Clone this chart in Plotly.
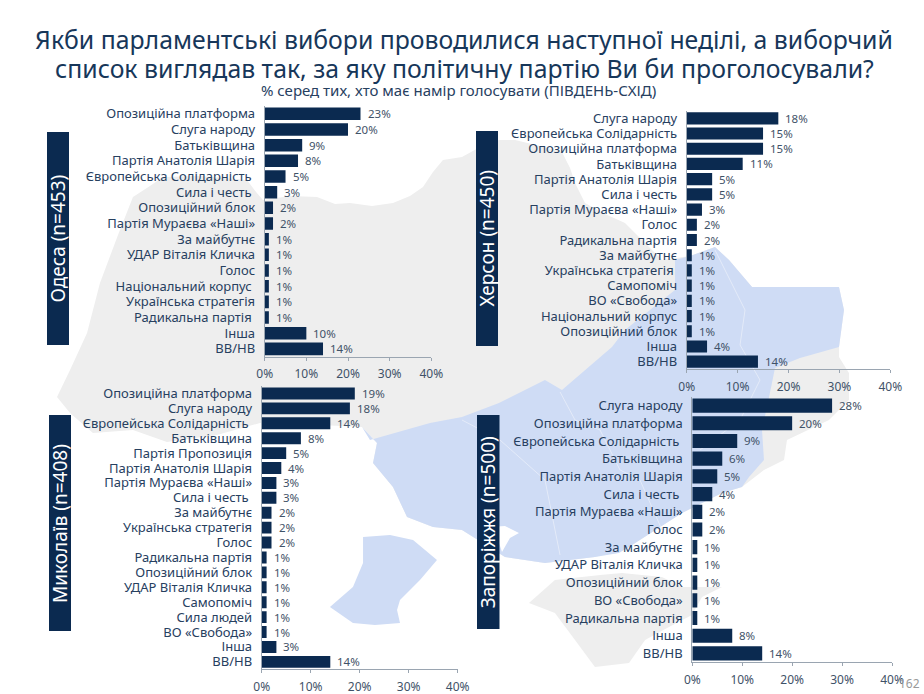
import plotly.graph_objects as go

W, H = 924, 694
NB = "\u00a0"

odesa_labels = ["Опозиційна платформа", "Слуга народу", "Батьківщина", "Партія Анатолія Шарія",
                "Європейська Солідарність" + NB, "Сила і честь" + NB, "Опозиційний блок", "Партія Мураєва «Наші»",
                "За майбутнє", "УДАР Віталія Кличка", "Голос", "Національний корпус" + NB,
                "Українська стратегія", "Радикальна партія" + NB, "Інша", "ВВ/НВ"]
odesa_values = [23, 20, 9, 8, 5, 3, 2, 2, 1, 1, 1, 1, 1, 1, 10, 14]

kherson_labels = ["Слуга народу", "Європейська Солідарність", "Опозиційна платформа", "Батьківщина",
                  "Партія Анатолія Шарія", "Сила і честь", "Партія Мураєва «Наші»", "Голос",
                  "Радикальна партія", "За майбутнє", "Українська стратегія" + NB, "Самопоміч",
                  "ВО «Свобода»", "Національний корпус", "Опозиційний блок", "Інша", "ВВ/НВ"]
kherson_values = [18, 15, 15, 11, 5, 5, 3, 2, 2, 1, 1, 1, 1, 1, 1, 4, 14]

mykolaiv_labels = ["Опозиційна платформа", "Слуга народу", "Європейська Солідарність" + NB, "Батьківщина",
                   "Партія Пропозиція", "Партія Анатолія Шарія", "Партія Мураєва «Наші»", "Сила і честь" + NB,
                   "За майбутнє", "Українська стратегія", "Голос", "Радикальна партія",
                   "Опозиційний блок", "УДАР Віталія Кличка", "Самопоміч", "Сила людей",
                   "ВО «Свобода»", "Інша", "ВВ/НВ"]
mykolaiv_values = [19, 18, 14, 8, 5, 4, 3, 3, 2, 2, 2, 1, 1, 1, 1, 1, 1, 3, 14]

zaporizhzhia_labels = ["Слуга народу", "Опозиційна платформа", "Європейська Солідарність" + NB, "Батьківщина",
                       "Партія Анатолія Шарія", "Сила і честь" + NB, "Партія Мураєва «Наші»", "Голос",
                       "За майбутнє", "УДАР Віталія Кличка", "Опозиційний блок", "ВО «Свобода»",
                       "Радикальна партія", "Інша", "ВВ/НВ"]
zaporizhzhia_values = [28, 20, 9, 6, 5, 4, 2, 2, 1, 1, 1, 1, 1, 8, 14]

tick_values = [0, 10, 20, 30, 40]
tick_labels = ["0%", "10%", "20%", "30%", "40%"]

FONT = "Noto Sans"
NAVY = "#0b2a50"
LABEL = "#27405f"
VALUE = "#3f5268"
AXIS = "#9aa5b1"
GREY = "#eeeeee"
BLUE = "#cfdcf5"

def px_x(x): return x / W
def px_y(y): return 1 - y / H

def path(points):
    return "M" + " L".join(f"{px_x(x):.4f},{px_y(y):.4f}" for x, y in points) + " Z"

grey_map = [(133,197),(150,186),(163,177),(200,176),(247,180),(256,192),(263,200),(290,196),(317,197),(335,204),
            (350,203),(372,206),(393,203),(410,196),(423,187),(433,172),(443,160),(462,157),(480,147),(499,140),
            (515,140),(540,146),(562,152),(570,168),(575,183),(585,203),(605,214),(625,223),(642,240),(662,260),
            (690,256),(715,247),(729,260),(752,287),(799,287),(839,287),(844,310),(839,347),(839,357),(849,373),
            (849,400),(829,420),(787,440),(784,460),(764,470),(742,487),(722,493),(682,513),(629,547),(595,557),
            (545,563),(505,557),(462,530),(433,527),(407,517),(393,487),(373,463),(377,443),(362,427),(300,424),
            (260,423),(217,435),(167,442),(133,430),(93,433),(70,413),(57,397),(70,370),(87,333),(100,283),(118,235)]
crimea = [(529,603),(555,580),(600,575),(622,573),(662,577),(682,587),(722,587),(702,597),(692,615),(669,627),
          (645,640),(629,663),(595,667),(575,640),(555,613)]
blue_east = [(675,260),(690,256),(715,247),(729,260),(752,287),(799,287),(839,287),(844,310),(839,347),
             (800,358),(775,368),(772,383),(762,430),(764,460),(749,477),(742,487),(722,493),(682,513),(629,547),
             (619,553),(595,557),(545,563),(505,557),(462,530),(433,527),(407,517),(393,487),(373,463),(377,443),
             (362,427),(370,440),(430,423),(462,417),(499,403),(545,380),(562,390),(612,347),(625,330),(675,290)]
blue_odesa = [(363,537),(390,535),(413,540),(425,550),(437,560),(420,580),(400,600),(397,610),(400,623),(375,625),
              (353,623),(330,607),(353,587),(363,563)]
inlet = [(490,527),(505,526),(519,533),(510,538),(502,552),(498,540)]

shapes = []
for pts, col in [(grey_map, GREY), (crimea, GREY), (blue_east, BLUE), (blue_odesa, BLUE), (inlet, "#ffffff")]:
    shapes.append(dict(type="path", xref="paper", yref="paper", path=path(pts), fillcolor=col,
                       line=dict(width=0), layer="below"))
for pts in [[(560,392),(575,420),(600,430),(620,470),(640,480),(662,530)],
            [(715,250),(745,310),(740,345),(760,380),(740,420),(700,450)],
            [(462,420),(500,440),(545,480),(560,555)]]:
    d = "M" + " L".join(f"{px_x(x):.4f},{px_y(y):.4f}" for x, y in pts)
    shapes.append(dict(type="path", xref="paper", yref="paper", path=d,
                       line=dict(width=1, color="#e4ebf9"), layer="below"))

panels = [
    (odesa_labels, odesa_values, (264.7, 431.3), (106, 356.7), "Одеса (n=453)", (47, 69), (132, 345)),
    (kherson_labels, kherson_values, (686.7, 890.3), (110.7, 369.3), "Херсон (n=450)", (476, 498), (131, 346)),
    (mykolaiv_labels, mykolaiv_values, (261.7, 457.7), (386, 669.3), "Миколаїв (n=408)", (49, 71), (415, 631)),
    (zaporizhzhia_labels, zaporizhzhia_values, (692.3, 892), (396.7, 662.3), "Запоріжжя (n=500)", (477, 499.5), (415, 629)),
]

fig = go.Figure()
annotations = []
layout_axes = {}
for i, (labels, values, (x0, x1), (y0, y1), tab, (tx0, tx1), (ty0, ty1)) in enumerate(panels, 1):
    s = "" if i == 1 else str(i)
    fig.add_trace(go.Bar(x=values, y=list(range(len(labels))), orientation="h", marker=dict(color=NAVY, line=dict(width=0)),
                         xaxis=f"x{s}", yaxis=f"y{s}", showlegend=False, hoverinfo="x+y"))
    layout_axes[f"xaxis{s}"] = dict(domain=[px_x(x0), px_x(x1)], anchor=f"y{s}", range=[0, 40],
                                    tickvals=tick_values, ticktext=tick_labels, ticks="outside", ticklen=3,
                                    tickcolor=AXIS, showline=True, linecolor=AXIS, linewidth=1, showgrid=False,
                                    zeroline=False, tickfont=dict(family=FONT, size=12, color=VALUE), fixedrange=True,
                                    automargin=False, ticklabelstandoff=3)
    layout_axes[f"yaxis{s}"] = dict(domain=[px_y(y1), px_y(y0)], anchor=f"x{s}", range=[len(labels) - 0.5, -0.5],
                                    tickmode="array", tickvals=list(range(len(labels))), ticktext=labels,
                                    ticks="", showline=True, linecolor=AXIS, linewidth=1, showgrid=False,
                                    zeroline=False, tickfont=dict(family=FONT, size=13, color=LABEL), fixedrange=True,
                                    automargin=False, ticklabelstandoff=6)
    for j, v in enumerate(values):
        annotations.append(dict(x=v, y=j, xref=f"x{s}", yref=f"y{s}", text=f"{v}%", showarrow=False,
                                xanchor="left", yanchor="middle", xshift=5,
                                font=dict(family=FONT, size=11.5, color=VALUE)))
    shapes.append(dict(type="rect", xref="paper", yref="paper", x0=px_x(tx0), x1=px_x(tx1), y0=px_y(ty1), y1=px_y(ty0),
                       fillcolor=NAVY, line=dict(width=0), layer="below"))
    annotations.append(dict(x=px_x((tx0 + tx1) / 2), y=px_y((ty0 + ty1) / 2), xref="paper", yref="paper", text=tab,
                            showarrow=False, textangle=-90, xanchor="center", yanchor="middle",
                            font=dict(family=FONT, size=19, color="#ffffff")))

annotations.append(dict(x=px_x(464), y=px_y(68), xref="paper", yref="paper", xanchor="center", yanchor="middle",
                        text="список виглядав так, за яку політичну партію Ви би проголосували?", showarrow=False,
                        font=dict(family=FONT, size=24.8, color="#17375a")))
annotations.append(dict(x=px_x(458), y=px_y(90), xref="paper", yref="paper", xanchor="center", yanchor="middle",
                        text="% серед тих, хто має намір голосувати (ПІВДЕНЬ-СХІД)", showarrow=False,
                        font=dict(family=FONT, size=15, color=LABEL)))
annotations.append(dict(x=px_x(909), y=px_y(683), xref="paper", yref="paper", xanchor="center", yanchor="middle",
                        text="162", showarrow=False, font=dict(family=FONT, size=12, color="#9a9a9a")))

fig.update_layout(
    width=W, height=H, margin=dict(l=0, r=0, t=0, b=0), paper_bgcolor="#ffffff", plot_bgcolor="rgba(0,0,0,0)",
    bargap=0.2, shapes=shapes, annotations=annotations, showlegend=False,
    title=dict(text="Якби парламентські вибори проводилися наступної неділі, а виборчий",
               x=px_x(464), xanchor="center", y=px_y(40), yanchor="middle",
               font=dict(family=FONT, size=24.8, color="#17375a"), automargin=False),
    **layout_axes,
)
fig.write_html("out.html", config=dict(displayModeBar=False),
               post_script="document.body.style.margin='0';")
